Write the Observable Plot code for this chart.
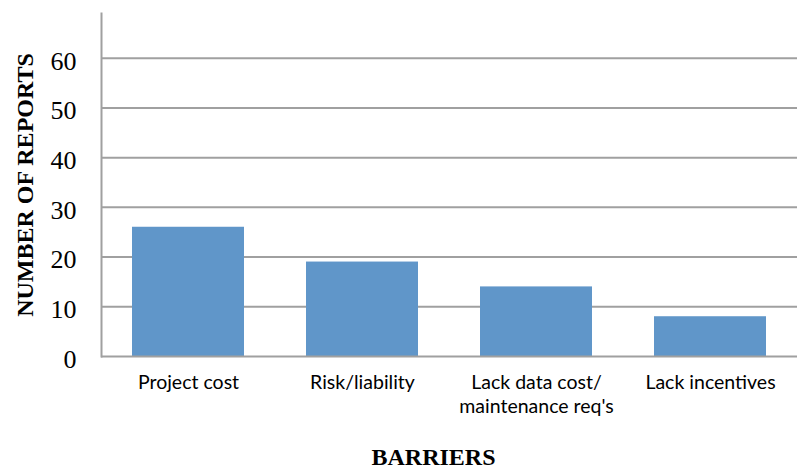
<!DOCTYPE html>
<html><head><meta charset="utf-8">
<script src="https://cdn.jsdelivr.net/npm/d3@7"></script>
<script src="https://cdn.jsdelivr.net/npm/@observablehq/plot@0.6"></script>
<style>body{margin:0;background:#fff;} svg{display:block;}</style>
</head><body><div id="chart"></div>
<script>
const categories = ["Project cost", "Risk/liability", "Lack data cost/\nmaintenance req's", "Lack incentives"];
const reports = [26, 19, 14, 8];
const yTicks = [0, 10, 20, 30, 40, 50, 60];
const xTitle = "BARRIERS";
const yTitle = "NUMBER OF REPORTS";

const data = categories.map((c, i) => ({barrier: c, reports: reports[i]}));
const gridColor = "#a0a0a0";
const serif = "'Liberation Serif', 'Times New Roman', serif";

const chart = Plot.plot({
  width: 797,
  height: 470,
  marginLeft: 101,
  marginRight: 0,
  marginTop: 13,
  marginBottom: 114,
  style: {background: "#fff", overflow: "visible"},
  x: {domain: categories, paddingInner: 0.356, paddingOuter: 0.178, label: null},
  y: {domain: [0, 69], label: null},
  marks: [
    Plot.ruleY(yTicks.filter(d => d > 0), {stroke: gridColor, strokeWidth: 2}),
    Plot.barY(data, {x: "barrier", y: "reports", fill: "#6096c9"}),
    Plot.ruleY([0], {stroke: gridColor, strokeWidth: 2}),
    Plot.frame({anchor: "left", stroke: gridColor, strokeWidth: 2}),
    Plot.axisY({ticks: yTicks, tickSize: 0, tickPadding: 25, fontSize: 26, fontFamily: serif, fill: "#000", dy: 3, label: null}),
    Plot.axisX({tickSize: 0, tickPadding: 16, fontSize: 19.5, fontFamily: "Lato, sans-serif", fill: "#000", lineHeight: 1.2, label: null}),
    Plot.text([yTitle], {frameAnchor: "left", dx: -76, rotate: -90, fontSize: 24, fontWeight: "bold", fontFamily: serif, fill: "#000", textAnchor: "middle", lineAnchor: "middle"}),
    Plot.text([xTitle], {frameAnchor: "bottom", dx: -16, dy: 101, fontSize: 24, fontWeight: "bold", fontFamily: serif, fill: "#000", textAnchor: "middle", lineAnchor: "middle"})
  ]
});
document.getElementById("chart").append(chart);
</script>
</body></html>
